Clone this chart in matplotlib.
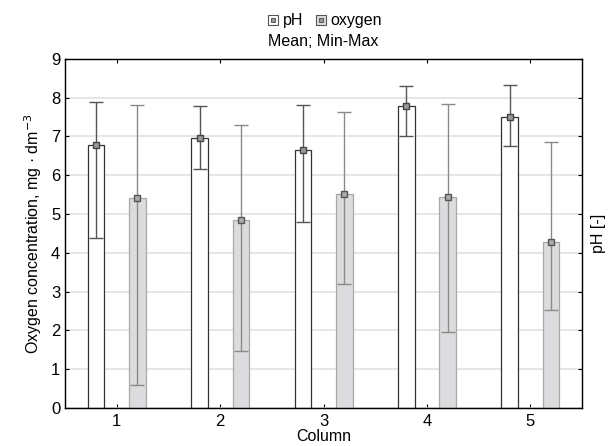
import numpy as np
import matplotlib
matplotlib.use("Agg")
import matplotlib.pyplot as plt
from matplotlib.lines import Line2D

plt.rcParams['font.family'] = ['Liberation Sans', 'DejaVu Sans']

columns = [1, 2, 3, 4, 5]
ph_mean = [6.79, 6.97, 6.64, 7.78, 7.50]
ph_min = [4.39, 6.17, 4.79, 7.00, 6.76]
ph_max = [7.88, 7.78, 7.82, 8.30, 8.33]
oxy_mean = [5.42, 4.85, 5.51, 5.45, 4.28]
oxy_min = [0.59, 1.46, 3.21, 1.95, 2.54]
oxy_max = [7.81, 7.30, 7.62, 7.83, 6.87]

x = np.array(columns, dtype=float)
w = 0.16
off = 0.2

fig = plt.figure(figsize=(6.14, 4.46), dpi=100)
ax = fig.add_axes([0.106, 0.085, 0.842, 0.783])

ax.set_axisbelow(True)
ax.yaxis.grid(True, color='#e2e2e2', linewidth=1.2)

ph = np.array(ph_mean)
ox = np.array(oxy_mean)

ax.bar(x - off, ph, width=w, color='white', edgecolor='#333333', linewidth=0.9, zorder=2)
ax.bar(x + off, ox, width=w, color='#dcdcde', edgecolor='#a8a8a8', linewidth=0.9, zorder=2)

ph_err = [ph - np.array(ph_min), np.array(ph_max) - ph]
ox_err = [ox - np.array(oxy_min), np.array(oxy_max) - ox]
ax.errorbar(x - off, ph, yerr=ph_err, fmt='s', color='#555555', ecolor='#555555',
            elinewidth=1.0, capsize=5, capthick=1.0, markersize=4.5,
            markerfacecolor='#999999', markeredgecolor='#444444', zorder=3)
ax.errorbar(x + off, ox, yerr=ox_err, fmt='s', color='#777777', ecolor='#8a8a8a',
            elinewidth=1.0, capsize=5, capthick=1.0, markersize=4.5,
            markerfacecolor='#aaaaaa', markeredgecolor='#555555', zorder=3)

ax.set_xlim(0.5, 5.5)
ax.set_ylim(0, 9)
ax.set_xticks(columns)
ax.set_yticks(range(0, 10))
ax.tick_params(direction='in', length=3, labelsize=12, top=True, right=True, width=0.8)
ax.tick_params(axis='x', pad=4)
for s in ax.spines.values():
    s.set_linewidth(1.0)
    s.set_color('#222222')

ax.set_xlabel('Column', fontsize=11.5, labelpad=0)
ax.set_ylabel('Oxygen concentration, mg · dm$^{-3}$', fontsize=11.5, labelpad=5)

ax2 = ax.twinx()
ax2.set_ylim(0, 9)
ax2.set_yticks(range(0, 10))
ax2.set_yticklabels([])
ax2.tick_params(direction='in', length=3, width=0.8)
ax2.set_ylabel('pH [-]', fontsize=11.5, labelpad=3)

def legend_icon(face):
    outer = Line2D([], [], marker='s', linestyle='none', markersize=7,
                   markerfacecolor=face, markeredgecolor='#555555', markeredgewidth=0.8)
    inner = Line2D([], [], marker='s', linestyle='none', markersize=3,
                   markerfacecolor='#999999', markeredgecolor='#444444', markeredgewidth=0.6)
    return (outer, inner)

handles = [legend_icon('white'), legend_icon('#dcdcde')]
fig.legend(handles, ['pH', 'oxygen'], loc='center', bbox_to_anchor=(0.527, 0.953), ncol=2,
           frameon=False, fontsize=11.5, handletextpad=0.1, columnspacing=0.6, handlelength=1.0)
fig.text(0.527, 0.907, 'Mean; Min-Max', ha='center', va='center', fontsize=11.5)

fig.savefig('out.png', dpi=100)
